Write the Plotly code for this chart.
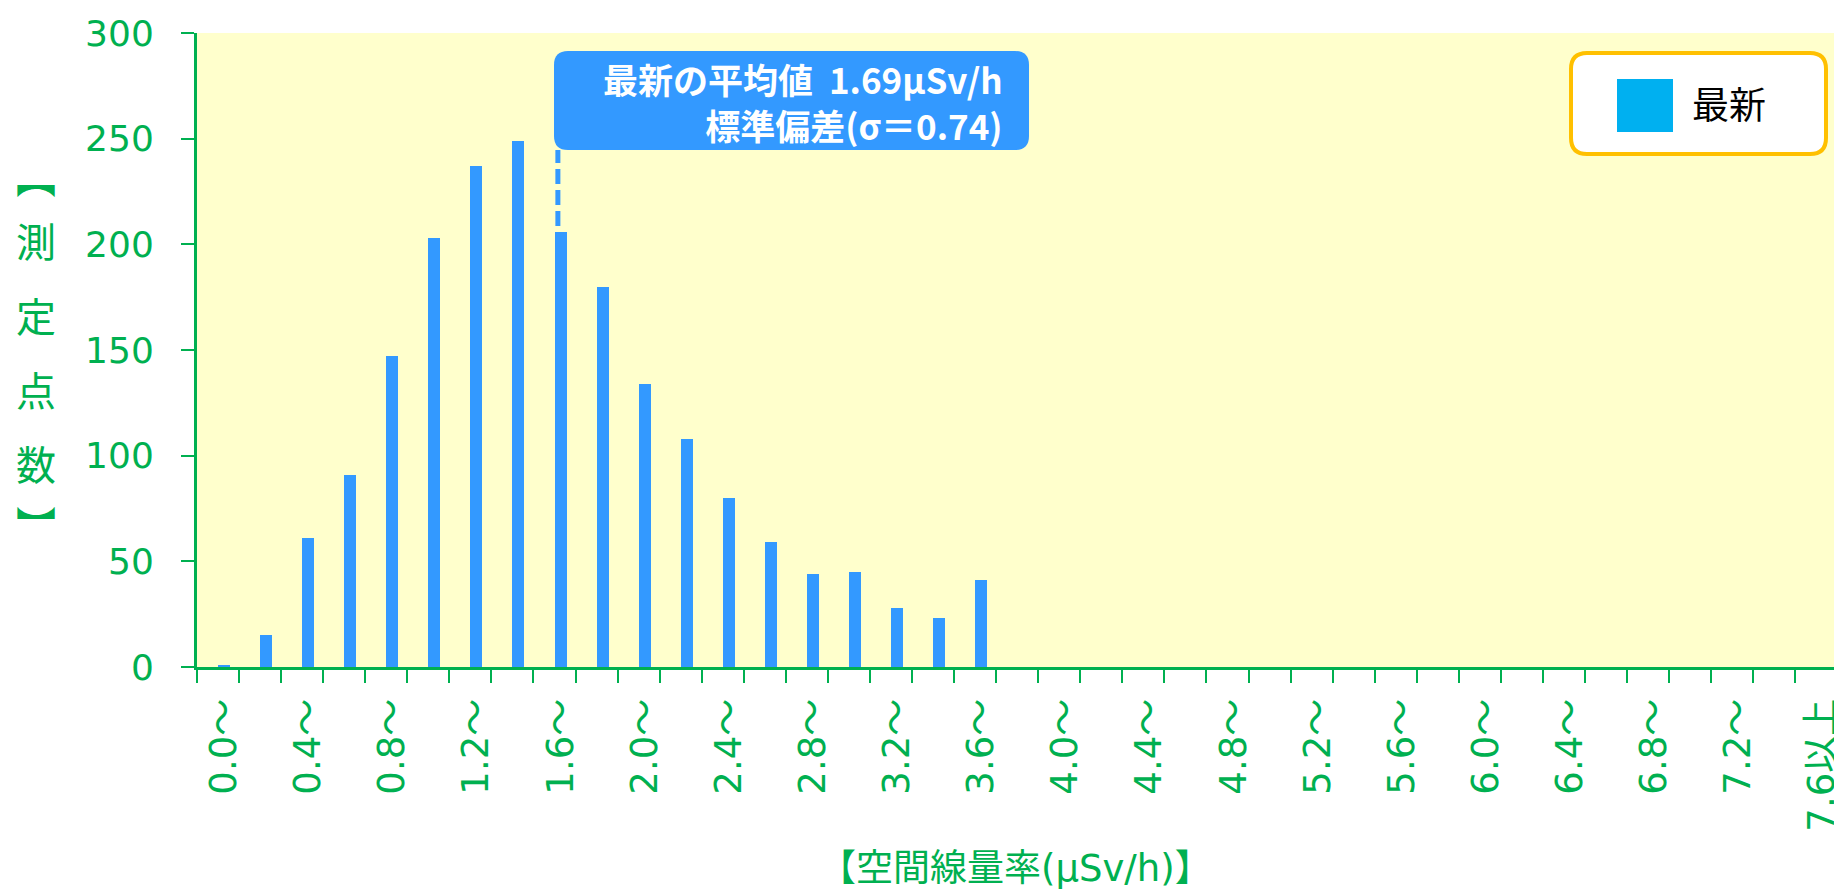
import plotly.graph_objects as go

# ---------------- data ----------------
CATEGORIES = ["0.0～", "0.2～", "0.4～", "0.6～", "0.8～", "1.0～", "1.2～", "1.4～",
              "1.6～", "1.8～", "2.0～", "2.2～", "2.4～", "2.6～", "2.8～", "3.0～",
              "3.2～", "3.4～", "3.6～", "3.8～", "4.0～", "4.2～", "4.4～", "4.6～",
              "4.8～", "5.0～", "5.2～", "5.4～", "5.6～", "5.8～", "6.0～", "6.2～",
              "6.4～", "6.6～", "6.8～", "7.0～", "7.2～", "7.4～", "7.6以上"]
COUNTS = [1, 15, 61, 91, 147, 203, 237, 249, 206, 180, 134, 108, 80, 59, 44, 45,
          28, 23, 41, 0, 0, 0, 0, 0, 0, 0, 0, 0, 0, 0, 0, 0, 0, 0, 0, 0, 0, 0, 0]
TICK_LABELS = ["0.0～", "", "0.4～", "", "0.8～", "", "1.2～", "", "1.6～", "",
               "2.0～", "", "2.4～", "", "2.8～", "", "3.2～", "", "3.6～", "",
               "4.0～", "", "4.4～", "", "4.8～", "", "5.2～", "", "5.6～", "",
               "6.0～", "", "6.4～", "", "6.8～", "", "7.2～", "", "7.6以上"]
Y_TICKS = [0, 50, 100, 150, 200, 250, 300]
MEAN = 1.69
SIGMA = 0.74
BIN_WIDTH = 0.2
SERIES_NAME = "最新"
X_TITLE = "【空間線量率(μSv/h)】"
Y_TITLE_CHARS = ["︻", "測", "定", "点", "数", "︼"]

# ---------------- style ----------------
W, H = 1834, 890
L, R, T, B = 197, 1834, 33, 667
GREEN = "#00B050"
BAR_BLUE = "#3399FF"
FONT = "DejaVu Sans, Noto Sans CJK JP"
CJK = "Noto Sans CJK JP"


def px(x):
    return (x - L) / (R - L)


def py(y):
    return (B - y) / (B - T)


def rrect(x0, y0, x1, y1, r):
    X, Y = px, py
    return (f"M {X(x0 + r)},{Y(y0)} L {X(x1 - r)},{Y(y0)} "
            f"Q {X(x1)},{Y(y0)} {X(x1)},{Y(y0 + r)} L {X(x1)},{Y(y1 - r)} "
            f"Q {X(x1)},{Y(y1)} {X(x1 - r)},{Y(y1)} L {X(x0 + r)},{Y(y1)} "
            f"Q {X(x0)},{Y(y1)} {X(x0)},{Y(y1 - r)} L {X(x0)},{Y(y0 + r)} "
            f"Q {X(x0)},{Y(y0)} {X(x0 + r)},{Y(y0)} Z")


fig = go.Figure()
fig.add_trace(go.Bar(
    x=CATEGORIES, y=COUNTS, name=SERIES_NAME,
    width=0.285, offset=0,
    marker=dict(color=BAR_BLUE, line=dict(width=0)),
    showlegend=False, hoverinfo="x+y",
))

mean_x = MEAN / BIN_WIDTH - 0.37

shapes = [
    dict(type="line", xref="x", yref="paper", x0=mean_x, x1=mean_x,
         y0=0, y1=py(150), line=dict(color=BAR_BLUE, width=5, dash="15px,6px"),
         layer="above"),
    dict(type="path", xref="paper", yref="paper", path=rrect(554, 51, 1029, 150, 14),
         fillcolor=BAR_BLUE, line=dict(width=0), layer="above"),
    dict(type="path", xref="paper", yref="paper", path=rrect(1571, 53, 1826, 154, 16),
         fillcolor="white", line=dict(color="#FFC000", width=4), layer="above"),
    dict(type="rect", xref="paper", yref="paper", x0=px(1617), x1=px(1673),
         y0=py(132), y1=py(79), fillcolor="#00B0F0", line=dict(width=0), layer="above"),
]

annotations = [
    dict(xref="paper", yref="paper", x=px(1005), y=py(101), xanchor="right", yanchor="middle",
         align="right",
         text=(f"<b>最新の平均値\u00a0\u00a0{MEAN:.2f}μSv/h</b><br>"
               f"<b>標準偏差(σ＝{SIGMA:.2f})</b>"),
         showarrow=False, font=dict(family=CJK, size=35, color="white")),
    dict(xref="paper", yref="paper", x=px(1690), y=py(103), xanchor="left", yanchor="middle",
         text=SERIES_NAME, showarrow=False,
         font=dict(family=CJK, size=37, color="black")),
    dict(xref="paper", yref="paper", x=0.5, y=py(868), xanchor="center", yanchor="middle",
         text=X_TITLE, showarrow=False,
         font=dict(family=FONT, size=37, color=GREEN)),
]

y_centers = [176, 240, 315, 389, 463, 524]
for ch, yc in zip(Y_TITLE_CHARS, y_centers):
    annotations.append(dict(xref="paper", yref="paper", x=px(36), y=py(yc),
                            xanchor="center", yanchor="middle", text=ch, showarrow=False,
                            font=dict(family=CJK, size=40, color=GREEN)))

fig.update_layout(
    width=W, height=H, autosize=False,
    margin=dict(l=L, r=W - R, t=T, b=H - B, pad=0, autoexpand=False),
    paper_bgcolor="white", plot_bgcolor="#FFFFCC",
    font=dict(family=FONT, color=GREEN),
    shapes=shapes, annotations=annotations,
    bargap=0, showlegend=False,
    xaxis=dict(
        type="category", categoryorder="array", categoryarray=CATEGORIES,
        range=[-0.5, 38.42], tickmode="array", tickvals=CATEGORIES, ticktext=TICK_LABELS,
        tickson="boundaries", ticks="outside", ticklen=13, tickwidth=2, tickcolor=GREEN,
        showline=True, linecolor=GREEN, linewidth=3, showgrid=False, zeroline=False,
        tickangle=-90, tickfont=dict(family=FONT, size=37, color=GREEN),
        ticklabelstandoff=14, ticklabelshift=6, fixedrange=True, automargin=False,
    ),
    yaxis=dict(
        range=[0, 300], tickmode="array", tickvals=Y_TICKS,
        ticks="outside", ticklen=13, tickwidth=2, tickcolor=GREEN,
        showline=True, linecolor=GREEN, linewidth=3, showgrid=False, zeroline=False,
        tickfont=dict(family=FONT, size=36, color=GREEN),
        ticklabelstandoff=20, fixedrange=True, automargin=False,
    ),
)

fig.write_html(
    "out.html",
    config={"displayModeBar": False},
    post_script="document.body.style.margin='0';document.body.style.overflow='hidden';",
)
